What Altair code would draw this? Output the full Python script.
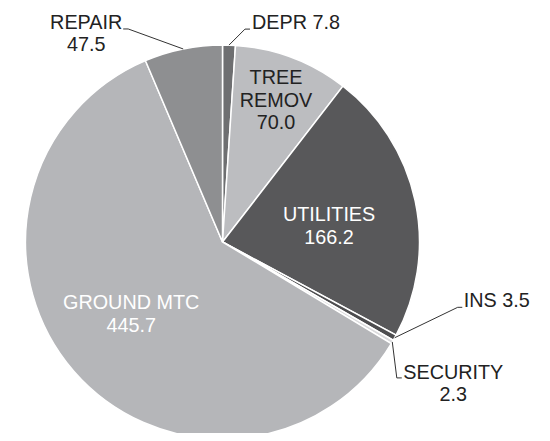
import altair as alt
import pandas as pd

# ---- data ----
categories = ["DEPR", "TREE REMOV", "UTILITIES", "INS", "SECURITY", "GROUND MTC", "REPAIR"]
values = [7.8, 70.0, 166.2, 3.5, 2.3, 445.7, 47.5]

# ---- style ----
colors = ["#6e6f71", "#bcbdc0", "#58585a", "#4d4d4f", "#dadadc", "#b5b6b9", "#8e8f91"]
CX, CY, R = 214.5, 234.0, 197.0
FONT = "Liberation Sans"
DARK = "#222222"
FS, LH = 19.8, 22.5

# label layout: kind, inside radius / offsets, leader elbow & end, text offset (relative to slice edge)
layout = {
    "DEPR":       dict(kind="out_l", r=0, dx=0, dy=0, bx=16, by=-16, nx=21, ny=-16, tx=23, ty=-22, tc=DARK, wrap=False, one=True),
    "TREE REMOV": dict(kind="in", r=151, dx=0, dy=0, bx=0, by=0, nx=0, ny=0, tx=0, ty=0, tc=DARK, wrap=True, one=False),
    "UTILITIES":  dict(kind="in", r=109, dx=0, dy=7, bx=0, by=0, nx=0, ny=0, tx=0, ty=0, tc="white", wrap=False, one=False),
    "INS":        dict(kind="out_l", r=0, dx=0, dy=0, bx=63, by=-30.4, nx=67.6, ny=-30.4, tx=69, ty=-36.5, tc=DARK, wrap=False, one=True),
    "SECURITY":   dict(kind="out_c", r=0, dx=0, dy=0, bx=4.5, by=36, nx=9.5, ny=36, tx=61, ty=42, tc=DARK, wrap=False, one=False),
    "GROUND MTC": dict(kind="in", r=117, dx=-3, dy=-4, bx=0, by=0, nx=0, ny=0, tx=0, ty=0, tc="white", wrap=False, one=False),
    "REPAIR":     dict(kind="out_c", r=0, dx=0, dy=0, bx=-55, by=-20, nx=-60, ny=-20, tx=-97, ty=-15, tc=DARK, wrap=False, one=False),
}

rows = []
for i, (c, v) in enumerate(zip(categories, values)):
    L = layout[c]
    name = c.replace(" ", "\n") if L["wrap"] else c
    label = f"{name} {v:.1f}" if L["one"] else f"{name}\n{v:.1f}"
    nl = label.count("\n") + 1
    row = dict(category=c, value=v, idx=i, label=label, shift=-(nl - 1) * LH / 2)
    row.update({k: L[k] for k in ["kind", "r", "dx", "dy", "bx", "by", "nx", "ny", "tx", "ty", "tc"]})
    rows.append(row)
df = pd.DataFrame(rows)

pie = alt.Chart(df).mark_arc(radius=R, stroke="white", strokeWidth=1.5).encode(
    theta=alt.Theta("value:Q", stack=True),
    order=alt.Order("idx:Q"),
    color=alt.Color("category:N", scale=alt.Scale(domain=categories, range=colors), legend=None),
    x=alt.value(CX),
    y=alt.value(CY),
)

base = (
    alt.Chart(df)
    .transform_joinaggregate(total="sum(value)")
    .transform_window(cum="sum(value)", sort=[alt.SortField("idx")], frame=[None, 0])
    .transform_calculate(
        mid="2*PI*(datum.cum - datum.value/2)/datum.total",
    )
    .transform_calculate(
        ex=f"{CX} + {R}*sin(datum.mid)",
        ey=f"{CY} - {R}*cos(datum.mid)",
        ix=f"{CX} + datum.r*sin(datum.mid) + datum.dx",
        iy=f"{CY} - datum.r*cos(datum.mid) + datum.dy + datum.shift",
    )
    .transform_calculate(
        ebx="datum.ex + datum.bx",
        eby="datum.ey + datum.by",
        enx="datum.ex + datum.nx",
        eny="datum.ey + datum.ny",
        otx="datum.ex + datum.tx",
        oty="datum.ey + datum.ty + datum.shift",
    )
)

def px(f):
    return alt.X(f"{f}:Q", scale=None, axis=None)

def py(f):
    return alt.Y(f"{f}:Q", scale=None, axis=None)

inside = base.transform_filter("datum.kind == 'in'").mark_text(
    font=FONT, fontSize=FS, lineHeight=LH, align="center", baseline="middle", lineBreak="\n"
).encode(x=px("ix"), y=py("iy"), text="label:N", color=alt.Color("tc:N", scale=None))

out_l = base.transform_filter("datum.kind == 'out_l'").mark_text(
    font=FONT, fontSize=FS, lineHeight=LH, align="left", baseline="middle", lineBreak="\n", color=DARK
).encode(x=px("otx"), y=py("oty"), text="label:N")

out_c = base.transform_filter("datum.kind == 'out_c'").mark_text(
    font=FONT, fontSize=FS, lineHeight=LH, align="center", baseline="middle", lineBreak="\n", color=DARK
).encode(x=px("otx"), y=py("oty"), text="label:N")

seg1 = base.transform_filter("datum.kind != 'in'").mark_rule(color="#333333", strokeWidth=1).encode(
    x=px("ex"), y=py("ey"), x2="ebx:Q", y2="eby:Q"
)
seg2 = base.transform_filter("datum.kind != 'in'").mark_rule(color="#333333", strokeWidth=1).encode(
    x=px("ebx"), y=py("eby"), x2="enx:Q", y2="eny:Q"
)

chart = (
    alt.layer(pie, seg1, seg2, inside, out_l, out_c)
    .properties(width=534, height=425, padding=0, autosize=alt.AutoSizeParams(type="none"))
    .configure_view(stroke=None)
)

chart.save("out.html", embed_options={"renderer": "svg", "actions": False})
